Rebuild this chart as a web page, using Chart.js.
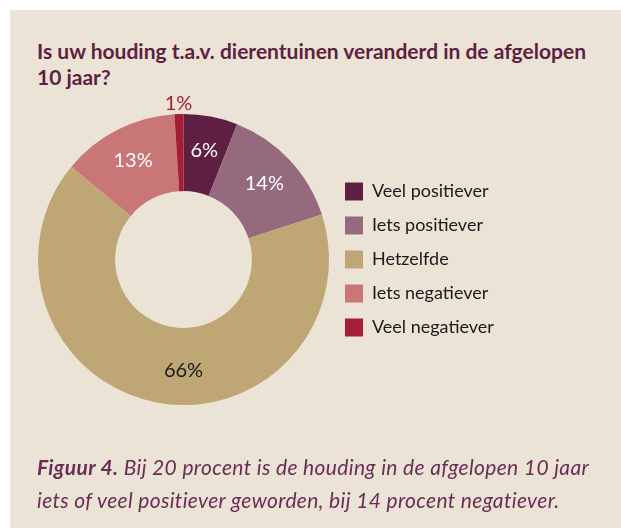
<!DOCTYPE html>
<html>
<head>
<meta charset="utf-8">
<script src="https://cdn.jsdelivr.net/npm/chart.js@4"></script>
<style>
  html, body { margin: 0; padding: 0; background: #fff; }
  body { width: 621px; height: 528px; position: relative; overflow: hidden; font-family: Lato, sans-serif; }
  #panel { position: absolute; left: 10px; top: 10px; right: 0; bottom: 0; background: #ebe3d5; }
  #title { position: absolute; left: 37px; top: 38px; width: 584px; margin: 0; white-space: nowrap;
           font-size: 21px; line-height: 26px; font-weight: bold; color: #5f1f43; }
  #caption { position: absolute; left: 37px; top: 450px; width: 584px; margin: 0; white-space: nowrap;
             font-size: 21px; line-height: 33px; font-style: italic; letter-spacing: 0.35px; color: #6b2d55; }
  #chartBox { position: absolute; left: 0; top: 0; width: 621px; height: 528px; }
</style>
</head>
<body>
<div id="panel"></div>
<p id="title">Is uw houding t.a.v. dierentuinen veranderd in de afgelopen<br>10 jaar?</p>
<div id="chartBox"><canvas id="donut"></canvas></div>
<p id="caption"><b>Figuur 4.</b> Bij 20 procent is de houding in de afgelopen 10 jaar<br>iets of veel positiever geworden, bij 14 procent negatiever.</p>
<script>
const categories = ['Veel positiever', 'Iets positiever', 'Hetzelfde', 'Iets negatiever', 'Veel negatiever'];
const percentages = [6, 14, 66, 13, 1];
const sliceColors = ['#5f1f43', '#956a7e', '#bea774', '#c87676', '#a51e37'];
const labelColors = ['#ffffff', '#ffffff', '#1a1a1a', '#ffffff', '#a51e37'];

// percentage labels inside the ring, small slices outside
const sliceLabels = {
  id: 'sliceLabels',
  afterDatasetsDraw(chart) {
    const ctx = chart.ctx;
    const meta = chart.getDatasetMeta(0);
    ctx.save();
    ctx.font = '20px Lato, sans-serif';
    ctx.textAlign = 'center';
    ctx.textBaseline = 'middle';
    meta.data.forEach((arc, i) => {
      const p = arc.getProps(['x', 'y', 'startAngle', 'endAngle', 'innerRadius', 'outerRadius'], true);
      let mid = (p.startAngle + p.endAngle) / 2;
      // a slice that covers the bottom of the ring gets its label at the bottom
      const bottom = Math.PI / 2;
      if (p.endAngle - p.startAngle > Math.PI && p.startAngle < bottom && p.endAngle > bottom) mid = bottom;
      const small = percentages[i] < 3;
      const r = small ? p.outerRadius + 11 : (p.innerRadius + p.outerRadius) / 2 + 4;
      ctx.fillStyle = labelColors[i];
      ctx.fillText(percentages[i] + '%', p.x + Math.cos(mid) * r, p.y + Math.sin(mid) * r);
    });
    ctx.restore();
  }
};

new Chart(document.getElementById('donut'), {
  type: 'doughnut',
  data: {
    labels: categories,
    datasets: [{
      data: percentages,
      backgroundColor: sliceColors,
      borderWidth: 0,
      hoverOffset: 0
    }]
  },
  options: {
    responsive: true,
    maintainAspectRatio: false,
    animation: false,
    cutout: '47%',
    layout: {
      padding: { left: 38, right: 122, top: 113, bottom: 122 }
    },
    plugins: {
      tooltip: { enabled: false },
      legend: {
        position: 'right',
        maxWidth: 170,
        labels: {
          boxWidth: 18,
          boxHeight: 18,
          padding: 16,
          color: '#1a1a1a',
          font: { family: 'Lato, sans-serif', size: 18 }
        }
      }
    }
  },
  plugins: [sliceLabels]
});
</script>
</body>
</html>
